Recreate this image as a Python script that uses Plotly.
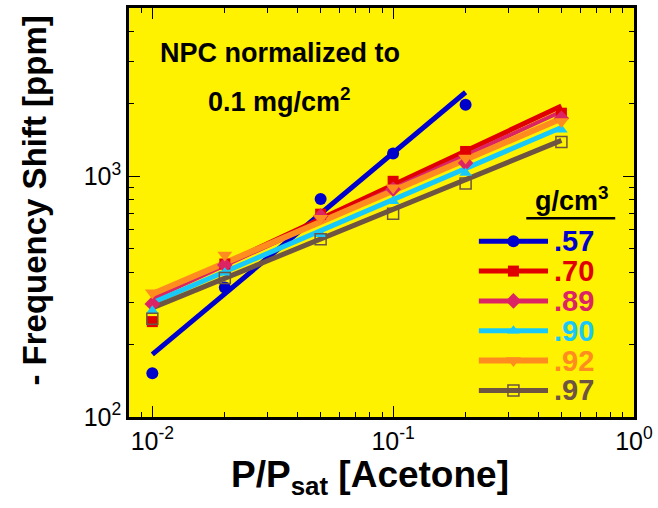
import plotly.graph_objects as go

# ---------------- data ----------------
pressure = [0.01, 0.02, 0.05, 0.1, 0.2, 0.5]
labels = [".57", ".70", ".89", ".90", ".92", ".97"]
colors = ["#0000CD", "#E00000", "#DC2465", "#18C8F8", "#FF8C1E", "#6E5442"]
symbols = ["circle", "square", "diamond", "triangle-up", "triangle-down", "square-open"]

shift_057 = [152, 345, 804, 1242, 1982]
shift_070 = [249, 432, 696, 953, 1268, 1828]
shift_089 = [295, 428, 683, 883, 1136, 1743]
shift_090 = [276, 397, 575, 788, 1032, 1561]
shift_092 = [328, 471, 669, 895, 1190, 1689]
shift_097 = [256, 378, 548, 698, 933, 1387]

fit_x_057 = [0.01, 0.2]
fit_x_other = [0.01, 0.5]
fit_057 = [182, 2233]
fit_070 = [313, 1957]
fit_089 = [310, 1858]
fit_090 = [298, 1595]
fit_092 = [324, 1738]
fit_097 = [284, 1409]

x_tickvals = [0.01, 0.1, 1]
x_ticktext = ["10<sup>-2</sup>", "10<sup>-1</sup>", "10<sup>0</sup>"]
y_tickvals = [100, 1000]
y_ticktext = ["10<sup>2</sup>", "10<sup>3</sup>"]

series = [
    (shift_057, fit_057, fit_x_057),
    (shift_070, fit_070, fit_x_other),
    (shift_089, fit_089, fit_x_other),
    (shift_090, fit_090, fit_x_other),
    (shift_092, fit_092, fit_x_other),
    (shift_097, fit_097, fit_x_other),
]
line_widths = [5, 5, 4, 5, 6, 5]
marker_sizes = [12, 11, 12, 11, 13, 11]

# ---------------- geometry ----------------
W, H = 658, 508
L, R, T, B = 129, 640, 5.5, 416.7
PW, PH = R - L, B - T
FONT = "Liberation Sans, Arial"


def px(xp):
    return (xp - L) / PW


def py(yp):
    return (B - yp) / PH


fig = go.Figure()

# fitted lines
for i in range(6):
    vals, fit, fx = series[i]
    fig.add_trace(go.Scatter(
        x=fx, y=fit, mode="lines",
        line=dict(color=colors[i], width=line_widths[i]),
        showlegend=False, hoverinfo="skip"))

# markers
for i in range(6):
    vals, fit, fx = series[i]
    mk = dict(color=colors[i], size=marker_sizes[i], symbol=symbols[i])
    if symbols[i].endswith("open"):
        mk["line"] = dict(color=colors[i], width=1.5)
    fig.add_trace(go.Scatter(
        x=pressure[:len(vals)], y=vals, mode="markers",
        marker=mk, showlegend=False))

# custom legend on an overlay axis
leg_x0, leg_xm, leg_x1 = px(483), px(518), px(553)
annotations = []
for k, lab in enumerate(labels):
    yy = py(240 + 30 * k)
    fig.add_trace(go.Scatter(
        x=[leg_x0, leg_x1], y=[yy, yy], mode="lines",
        line=dict(color=colors[k], width=line_widths[k] if k != 2 else 5),
        xaxis="x2", yaxis="y2", showlegend=False, hoverinfo="skip"))
    mk = dict(color=colors[k], size=marker_sizes[k], symbol=symbols[k])
    if symbols[k].endswith("open"):
        mk["line"] = dict(color=colors[k], width=1.5)
    fig.add_trace(go.Scatter(
        x=[leg_xm], y=[yy], mode="markers", marker=mk,
        xaxis="x2", yaxis="y2", showlegend=False, hoverinfo="skip"))
    annotations.append(dict(
        x=px(557), y=yy, xref="paper", yref="paper",
        text="<b>" + lab + "</b>", showarrow=False,
        xanchor="left", yanchor="middle",
        font=dict(family=FONT, size=29, color=colors[k])))

annotations += [
    dict(x=px(577), y=py(198), xref="paper", yref="paper",
         text="<b>g/cm<sup>3</sup></b>", showarrow=False,
         xanchor="center", yanchor="middle",
         font=dict(family=FONT, size=27, color="black")),
    dict(x=px(282), y=py(51), xref="paper", yref="paper",
         text="<b>NPC normalized to</b>", showarrow=False,
         xanchor="center", yanchor="middle",
         font=dict(family=FONT, size=27, color="black")),
    dict(x=px(281), y=py(98), xref="paper", yref="paper",
         text="<b>0.1 mg/cm<sup>2</sup></b>", showarrow=False,
         xanchor="center", yanchor="middle",
         font=dict(family=FONT, size=27, color="black")),
    dict(x=px(373), y=py(477), xref="paper", yref="paper",
         text="<b>P/P<sub>sat</sub> [Acetone]</b>", showarrow=False,
         xanchor="center", yanchor="middle",
         font=dict(family=FONT, size=37, color="black")),
    dict(x=px(33), y=py(199), xref="paper", yref="paper",
         text="<b>- Frequency Shift [ppm]</b>", showarrow=False, textangle=-90,
         xanchor="center", yanchor="middle",
         font=dict(family=FONT, size=33, color="black")),
]

shapes = [dict(type="line", xref="paper", yref="paper",
               x0=px(531), x1=px(621), y0=py(217), y1=py(217),
               line=dict(color="black", width=2.5))]

x_minor = [m * 10 ** e for e in (-3, -2, -1) for m in range(2, 10)]
y_minor = [m * 10 ** e for e in (2, 3) for m in range(2, 10)]

tickfont = dict(family=FONT, size=25, color="black")

fig.update_layout(
    width=W, height=H,
    margin=dict(l=L, r=W - R, t=T, b=H - B),
    paper_bgcolor="white", plot_bgcolor="#FFF200",
    showlegend=False,
    annotations=annotations, shapes=shapes,
    xaxis=dict(type="log", range=[-2.0969, 0.0004],
               tickvals=x_tickvals, ticktext=x_ticktext,
               ticklabeloverflow="allow",
               ticks="inside", ticklen=11, tickwidth=1.2, tickcolor="black",
               minor=dict(tickvals=x_minor, ticks="inside", ticklen=5,
                          tickwidth=1, tickcolor="black"),
               showline=True, linecolor="black", linewidth=2.5,
               mirror="allticks", showgrid=False, zeroline=False,
               tickfont=tickfont),
    yaxis=dict(type="log", range=[2, 3.699],
               tickvals=y_tickvals, ticktext=y_ticktext,
               ticks="inside", ticklen=11, tickwidth=1.2, tickcolor="black",
               minor=dict(tickvals=y_minor, ticks="inside", ticklen=5,
                          tickwidth=1, tickcolor="black"),
               showline=True, linecolor="black", linewidth=2.5,
               mirror="allticks", showgrid=False, zeroline=False,
               tickfont=tickfont),
    xaxis2=dict(overlaying="x", anchor="y2", range=[0, 1], visible=False,
                fixedrange=True),
    yaxis2=dict(overlaying="y", anchor="x2", range=[0, 1], visible=False,
                fixedrange=True),
)

fig.write_html("out.html")
